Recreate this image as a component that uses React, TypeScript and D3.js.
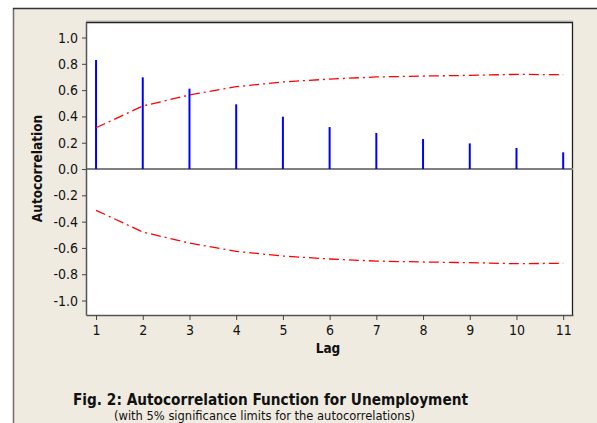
import React, { useEffect, useRef } from "react";
import * as d3 from "d3";

const lags = [1, 2, 3, 4, 5, 6, 7, 8, 9, 10, 11];
const acf = [0.829, 0.697, 0.611, 0.492, 0.398, 0.319, 0.274, 0.228, 0.195, 0.16, 0.127];
const limits = [0.314, 0.479, 0.563, 0.626, 0.662, 0.684, 0.7, 0.707, 0.712, 0.72, 0.717];
const yTicks = [-1.0, -0.8, -0.6, -0.4, -0.2, 0.0, 0.2, 0.4, 0.6, 0.8, 1.0];

const W = 597;
const H = 423;
const FONT = "'DejaVu Sans Condensed', 'DejaVu Sans', sans-serif";

const App = () => {
  const svgRef = useRef<SVGSVGElement>(null);

  useEffect(() => {
    const svg = d3.select(svgRef.current);
    svg.selectAll("*").remove();

    const plot = { left: 86, top: 22, right: 573, bottom: 315 };

    const x = d3.scaleLinear().domain([0.785, 11.21]).range([plot.left, plot.right]);
    const y = d3.scaleLinear().domain([-1.11, 1.118]).range([plot.bottom, plot.top]);

    // outer frame
    svg.append("rect").attr("x", 0).attr("y", 0).attr("width", W).attr("height", H).attr("fill", "#fff");
    svg.append("rect").attr("x", 13).attr("y", 8).attr("width", W - 13).attr("height", H - 8).attr("fill", "#efebe1");
    svg.append("line").attr("x1", 13.5).attr("x2", 13.5).attr("y1", 8).attr("y2", H).attr("stroke", "#6b6b6b").attr("stroke-width", 1.5);
    svg.append("line").attr("x1", 13).attr("x2", W).attr("y1", 8.5).attr("y2", 8.5).attr("stroke", "#333").attr("stroke-width", 1.5);

    // plot background
    svg.append("rect")
      .attr("x", plot.left).attr("y", plot.top)
      .attr("width", plot.right - plot.left).attr("height", plot.bottom - plot.top)
      .attr("fill", "#fff");
    svg.append("line").attr("x1", plot.left).attr("x2", plot.right).attr("y1", plot.top - 1).attr("y2", plot.top - 1).attr("stroke", "#bbb").attr("stroke-width", 1);
    svg.append("path")
      .attr("d", `M${plot.left},${plot.top + 0.5}H${plot.right - 0.5}V${plot.bottom}`)
      .attr("fill", "none").attr("stroke", "#222").attr("stroke-width", 1.3);

    // zero line
    svg.append("line")
      .attr("x1", plot.left).attr("x2", plot.right)
      .attr("y1", y(0)).attr("y2", y(0))
      .attr("stroke", "#808080").attr("stroke-width", 2);

    const fmtY = (d: number) => d3.format(".1f")(d).replace("−", "-");

    // y axis
    const yAxis = svg.append("g").attr("transform", `translate(${plot.left},0)`)
      .call(d3.axisLeft(y).tickValues(yTicks).tickFormat(fmtY as any).tickSize(4).tickSizeOuter(0));
    yAxis.select(".domain").attr("stroke", "#555").attr("stroke-width", 1.5);
    yAxis.selectAll(".tick line").attr("stroke", "#444");
    yAxis.selectAll("text").attr("font-family", FONT).attr("font-size", 14).attr("fill", "#111").attr("dx", -1);

    // x axis
    const xAxis = svg.append("g").attr("transform", `translate(0,${plot.bottom})`)
      .call(d3.axisBottom(x).tickValues(lags).tickFormat(d3.format("d")).tickSize(5).tickSizeOuter(0));
    xAxis.select(".domain").attr("stroke", "#555").attr("stroke-width", 1.5);
    xAxis.selectAll(".tick line").attr("stroke", "#444");
    xAxis.selectAll("text").attr("font-family", FONT).attr("font-size", 14).attr("fill", "#111").attr("dy", "0.85em");

    // acf bars
    svg.append("g").selectAll("line").data(lags).enter().append("line")
      .attr("x1", d => x(d)).attr("x2", d => x(d))
      .attr("y1", y(0)).attr("y2", (d, i) => y(acf[i]))
      .attr("stroke", "#0000ff").attr("stroke-width", 2);

    // significance limits
    const line = d3.line<number>().x((d, i) => x(lags[i])).y(d => y(d));
    [1, -1].forEach(s => {
      svg.append("path")
        .attr("d", line(limits.map(v => v * s)))
        .attr("fill", "none").attr("stroke", "#ff0000").attr("stroke-width", 1.3)
        .attr("stroke-dasharray", "10,4,2,4");
    });

    // labels
    svg.append("text")
      .attr("transform", `translate(42,168.5) rotate(-90)`)
      .attr("text-anchor", "middle")
      .attr("font-family", FONT).attr("font-weight", "bold").attr("font-size", 13.5)
      .attr("fill", "#111")
      .text("Autocorrelation");

    svg.append("text")
      .attr("x", 328).attr("y", 353).attr("text-anchor", "middle")
      .attr("font-family", FONT).attr("font-weight", "bold").attr("font-size", 13.5)
      .attr("fill", "#111")
      .text("Lag");

    svg.append("text")
      .attr("x", 73).attr("y", 405)
      .attr("font-family", FONT).attr("font-weight", "bold").attr("font-size", 15.5)
      .attr("textLength", 395).attr("lengthAdjust", "spacingAndGlyphs")
      .attr("fill", "#111")
      .text("Fig. 2: Autocorrelation Function for Unemployment");

    svg.append("text")
      .attr("x", 114).attr("y", 419.5)
      .attr("font-family", FONT).attr("font-size", 12.5)
      .attr("textLength", 301).attr("lengthAdjust", "spacingAndGlyphs")
      .attr("fill", "#111")
      .text("(with 5% significance limits for the autocorrelations)");
  }, []);

  return (
    <svg ref={svgRef} width={W} height={H} style={{ position: "absolute", left: 0, top: 0 }} />
  );
};

export default App;
